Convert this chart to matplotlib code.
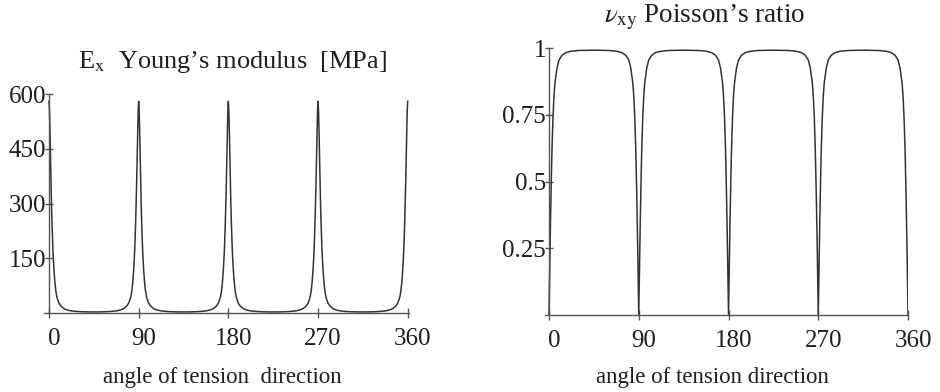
import numpy as np
import matplotlib
matplotlib.use('Agg')
import matplotlib.pyplot as plt
from matplotlib.transforms import ScaledTranslation

plt.rcParams['font.family'] = ['Liberation Serif', 'DejaVu Serif']
plt.rcParams['mathtext.fontset'] = 'stix'

# ---- data (one half-lobe, distance from a peak in degrees) ----
ANGLE_TICKS = [0, 90, 180, 270, 360]

E_OFFSET = [0, 0.5, 1, 1.5, 2, 2.5, 3, 4, 5, 6, 7, 8, 10, 12, 15, 18, 22, 27, 32, 38, 45]
E_VALUES = [580, 555, 500, 430, 360, 300, 250, 170, 118, 82, 58, 43, 27, 19, 12,
            8.5, 6, 4.5, 3.6, 3.1, 2.9]
E_TICKS = [150, 300, 450, 600]

NU_OFFSET = [0, 0.5, 1, 1.5, 2, 2.5, 3, 4, 5, 6, 8, 10, 13, 17, 22, 30, 45]
NU_VALUES = [0, 0.12, 0.24, 0.35, 0.45, 0.54, 0.62, 0.74, 0.82, 0.87, 0.925, 0.955,
             0.973, 0.983, 0.988, 0.991, 0.992]
NU_TICKS = [0.25, 0.5, 0.75, 1]
NU_TICK_LABELS = ['0.25', '0.5', '0.75', '1']


def full_curve(offsets, values, n_lobes=4, period=90):
    """mirror the half-lobe profile and repeat it for every 90 deg lobe"""
    off = np.asarray(offsets, float)
    val = np.asarray(values, float)
    lobe_x = np.concatenate([off, period - off[::-1][1:]])
    lobe_y = np.concatenate([val, val[::-1][1:]])
    xs, ys = [lobe_x], [lobe_y]
    for k in range(1, n_lobes):
        xs.append(lobe_x[1:] + k * period)
        ys.append(lobe_y[1:])
    return np.concatenate(xs), np.concatenate(ys)


LINE = '#333333'
AXC = '#555555'
TXT = '#1e1e1e'


def style_axes(ax, fig, xlim):
    for s in ['top', 'right']:
        ax.spines[s].set_visible(False)
    ax.spines['left'].set_position(('data', 0))
    for s in ['left', 'bottom']:
        ax.spines[s].set_color(AXC)
        ax.spines[s].set_linewidth(1.0)
    ax.set_xlim(*xlim)
    ax.set_xticks(ANGLE_TICKS)
    ax.tick_params(axis='x', direction='inout', length=7, width=1, color=AXC,
                   labelsize=18, labelcolor=TXT, pad=7)
    ax.tick_params(axis='y', direction='inout', length=6, width=1, color=AXC,
                   labelsize=18, labelcolor=TXT, pad=-1)
    off = ScaledTranslation(0.05, 0, fig.dpi_scale_trans)
    for lab in ax.get_xticklabels():
        lab.set_transform(lab.get_transform() + off)
    ax.set_facecolor('none')


fig = plt.figure(figsize=(9.4, 3.92), dpi=100)

# ---- left: Young's modulus ----
ax1 = fig.add_axes([0.0468, 0.2015, 0.388, 0.5587])
x, y = full_curve(E_OFFSET, E_VALUES)
ax1.plot(x, y, color=LINE, lw=1.1)
ax1.set_ylim(0, 600)
ax1.set_yticks(E_TICKS)
style_axes(ax1, fig, (-5, 361))
fig.text(0.247, 0.842, r'E$_{\mathrm{x}}$  Young’s modulus  [MPa]', ha='center', va='center',
         fontsize=19, color=TXT)
fig.text(0.237, 0.038, 'angle of tension  direction', ha='center', va='center',
         fontsize=16.5, color=TXT)

# ---- right: Poisson's ratio ----
ax2 = fig.add_axes([0.5798, 0.1964, 0.3862, 0.681])
x, y = full_curve(NU_OFFSET, NU_VALUES)
ax2.plot(x, y, color=LINE, lw=1.1)
ax2.set_ylim(0, 1)
ax2.set_yticks(NU_TICKS)
ax2.set_yticklabels(NU_TICK_LABELS)
style_axes(ax2, fig, (-4, 360))
fig.text(0.75, 0.955, r'$\nu_{\mathrm{xy}}$ Poisson’s ratio', ha='center', va='center',
         fontsize=19.5, color=TXT)
fig.text(0.758, 0.038, 'angle of tension direction', ha='center', va='center',
         fontsize=16.5, color=TXT)

fig.savefig('out.png', dpi=100)
